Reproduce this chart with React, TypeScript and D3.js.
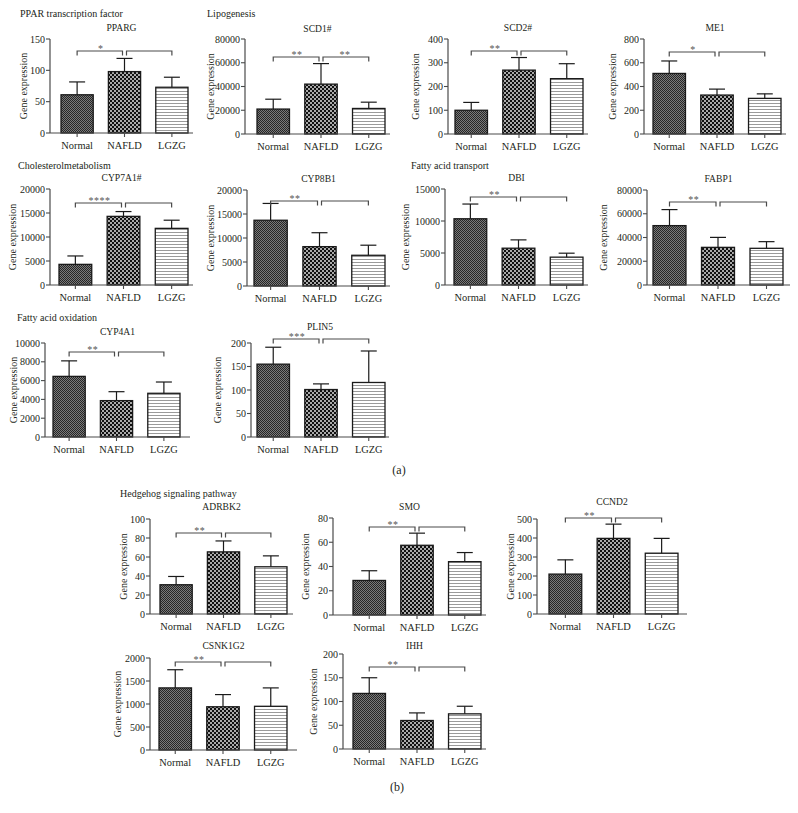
import React from "react";
import * as d3 from "d3";

const groups = ["Normal", "NAFLD", "LGZG"];
const genes = ["PPARG", "SCD1#", "SCD2#", "ME1", "CYP7A1#", "CYP8B1", "DBI", "FABP1", "CYP4A1", "PLIN5", "ADRBK2", "SMO", "CCND2", "CSNK1G2", "IHH"];
const normalMean = [61, 21000, 100, 510, 4300, 13700, 10350, 50000, 6450, 155, 30.8, 28.5, 210, 1350, 117];
const nafldMean = [98, 42000, 269, 328, 14300, 8200, 5750, 31700, 3870, 101, 65.4, 57.5, 398, 940, 60];
const lgzgMean = [73, 21500, 233, 300, 11800, 6400, 4350, 30900, 4650, 116, 49.7, 44, 320, 950, 74];
const normalSD = [20.5, 8300, 33, 105, 1750, 3500, 2300, 13500, 1650, 36, 8.7, 8, 75, 395, 33];
const nafldSD = [21, 17300, 53, 50, 1000, 2900, 1300, 8400, 950, 12, 11.5, 10, 75, 265, 16];
const lgzgSD = [16, 5300, 63, 38, 1700, 2100, 620, 5600, 1200, 67, 11.5, 7.5, 78, 400, 16];
const yMax = [150, 80000, 400, 800, 20000, 20000, 15000, 80000, 10000, 200, 100, 80, 500, 2000, 200];
const yStep = [50, 20000, 100, 200, 5000, 5000, 5000, 20000, 2000, 50, 20, 20, 100, 500, 50];
const sigLeft = ["*", "**", "**", "*", "****", "**", "**", "**", "**", "***", "**", "**", "**", "**", "**"];
const sigRight = ["", "**", "", "", "", "", "", "", "", "", "", "", "", "", ""];
const sections = ["PPAR transcription factor", "Lipogenesis", "Cholesterolmetabolism", "Fatty acid transport", "Fatty acid oxidation", "Hedgehog signaling pathway"];
const figureLabels = ["(a)", "(b)"];
const yLabel = "Gene expression";

// layout (pixel positions)
const boxes = [
  { ax: 50, b0: 61, b1: 188, ae: 193, top: 39, zero: 133, tY: 28, bY: 51, ylX: 23 },
  { ax: 245, b0: 257, b1: 385, ae: 390, top: 39, zero: 134, tY: 29, bY: 57, ylX: 210 },
  { ax: 448, b0: 455, b1: 583, ae: 588, top: 39, zero: 134, tY: 28, bY: 51, ylX: 415 },
  { ax: 644, b0: 653, b1: 781, ae: 786, top: 39, zero: 134, tY: 28, bY: 52, ylX: 612 },
  { ax: 50, b0: 59, b1: 188, ae: 193, top: 189, zero: 285, tY: 178, bY: 203, ylX: 12 },
  { ax: 247, b0: 254, b1: 385, ae: 390, top: 190, zero: 286, tY: 179, bY: 201, ylX: 210 },
  { ax: 445, b0: 454, b1: 583, ae: 588, top: 189, zero: 285, tY: 178, bY: 197, ylX: 405 },
  { ax: 647, b0: 653, b1: 783, ae: 790, top: 190, zero: 285, tY: 179, bY: 202, ylX: 603 },
  { ax: 45, b0: 53, b1: 180, ae: 190, top: 343, zero: 437, tY: 332, bY: 352, ylX: 13 },
  { ax: 251, b0: 257, b1: 385, ae: 389, top: 343, zero: 437, tY: 327, bY: 339, ylX: 217 },
  { ax: 150, b0: 160, b1: 287, ae: 293, top: 519, zero: 614, tY: 507, bY: 533, ylX: 123 },
  { ax: 333, b0: 353, b1: 481, ae: 486, top: 518, zero: 615, tY: 507, bY: 527, ylX: 305 },
  { ax: 537, b0: 549, b1: 678, ae: 687, top: 519, zero: 614, tY: 502, bY: 518, ylX: 510 },
  { ax: 150, b0: 159, b1: 287, ae: 297, top: 658, zero: 750, tY: 646, bY: 662, ylX: 117 },
  { ax: 343, b0: 353, b1: 481, ae: 486, top: 654, zero: 749, tY: 646, bY: 667, ylX: 313 },
];
const sectionPos = [
  { x: 20, y: 13 }, { x: 207, y: 13 }, { x: 18, y: 165 }, { x: 411, y: 165 }, { x: 17, y: 317 }, { x: 120, y: 493 },
];
const figLabelPos = [{ x: 399, y: 470 }, { x: 397, y: 787 }];

const FONT = "'Liberation Serif', 'DejaVu Serif', serif";
const TXT = "#231f20";
const AX = "#4a4a4a";
const fills = ["url(#pNormal)", "url(#pNafld)", "url(#pLgzg)"];

function Panel({ i }: { i: number }) {
  const b = boxes[i];
  const means = [normalMean[i], nafldMean[i], lgzgMean[i]];
  const sds = [normalSD[i], nafldSD[i], lgzgSD[i]];
  const y = d3.scaleLinear().domain([0, yMax[i]]).range([b.zero, b.top]);
  const x = d3.scaleBand<string>().domain(groups).range([b.b0, b.b1]).paddingInner(0.32).paddingOuter(0);
  const ticks = d3.range(0, yMax[i] + yStep[i] / 2, yStep[i]);
  const cx = (g: string) => (x(g) as number) + x.bandwidth() / 2;
  const c0 = cx(groups[0]), c1 = cx(groups[1]), c2 = cx(groups[2]);
  const mid = (b.top + b.zero) / 2;
  return (
    <g>
      {groups.map((g, k) => (
        <rect key={g} x={x(g)} y={y(means[k])} width={x.bandwidth()} height={b.zero - y(means[k])}
          fill={fills[k]} stroke="#1a1a1a" strokeWidth={1.3} />
      ))}
      {groups.map((g, k) => {
        const c = cx(g);
        return (
          <g key={"e" + g} stroke="#1a1a1a" strokeWidth={1.2}>
            <line x1={c} x2={c} y1={y(means[k])} y2={y(means[k] + sds[k])} />
            <line x1={c - 8} x2={c + 8} y1={y(means[k] + sds[k])} y2={y(means[k] + sds[k])} />
          </g>
        );
      })}
      <line x1={b.ax} x2={b.ax} y1={b.zero} y2={b.top} stroke={AX} strokeWidth={1.2} />
      <line x1={b.ax} x2={b.ae} y1={b.zero} y2={b.zero} stroke={AX} strokeWidth={1.2} />
      {ticks.map((t) => (
        <g key={t}>
          <line x1={b.ax - 4} x2={b.ax} y1={y(t)} y2={y(t)} stroke={AX} strokeWidth={1.1} />
          <text x={b.ax - 5} y={y(t) + 3.5} textAnchor="end" fontSize={10} fill={TXT}>{d3.format("d")(t)}</text>
        </g>
      ))}
      {groups.map((g) => (
        <g key={"x" + g}>
          <line x1={cx(g)} x2={cx(g)} y1={b.zero} y2={b.zero + 4} stroke={AX} strokeWidth={1.1} />
          <text x={cx(g)} y={b.zero + 15.5} textAnchor="middle" fontSize={10.4} fill={TXT}>{g}</text>
        </g>
      ))}
      <path d={`M${c0},${b.bY + 4.5}V${b.bY}H${c1 - 2}V${b.bY + 4.5}`} fill="none" stroke={AX} strokeWidth={1.2} />
      <path d={`M${c1 + 2},${b.bY + 4.5}V${b.bY}H${c2}V${b.bY + 4.5}`} fill="none" stroke={AX} strokeWidth={1.2} />
      <text x={(c0 + c1) / 2} y={b.bY + 1} textAnchor="middle" fontSize={10} fill="#555" letterSpacing={0.5}>{sigLeft[i]}</text>
      {sigRight[i] && (
        <text x={(c1 + c2) / 2} y={b.bY + 1} textAnchor="middle" fontSize={10} fill="#555" letterSpacing={0.5}>{sigRight[i]}</text>
      )}
      <text x={(b.ax + b.ae) / 2} y={b.tY + 3.3} textAnchor="middle" fontSize={9.6} fill={TXT}>{genes[i]}</text>
      <text transform={`translate(${b.ylX + 3.5},${mid}) rotate(-90)`} textAnchor="middle" fontSize={10} fill={TXT}>{yLabel}</text>
    </g>
  );
}

export default function App() {
  return (
    <svg width={798} height={813} style={{ position: "absolute", left: 0, top: 0, background: "#fff" }}
      fontFamily={FONT}>
      <defs>
        <pattern id="pNormal" width={2} height={2} patternUnits="userSpaceOnUse">
          <rect width={2} height={2} fill="#7a7a7a" />
          <rect width={1} height={1} fill="#262626" />
          <rect x={1} y={1} width={1} height={1} fill="#262626" />
        </pattern>
        <pattern id="pNafld" width={4} height={4} patternUnits="userSpaceOnUse">
          <rect width={4} height={4} fill="#111" />
          <rect x={0.2} y={0.2} width={1.6} height={1.6} fill="#fff" />
          <rect x={2.2} y={2.2} width={1.6} height={1.6} fill="#fff" />
        </pattern>
        <pattern id="pLgzg" width={4} height={3} patternUnits="userSpaceOnUse">
          <rect width={4} height={3} fill="#fff" />
          <rect y={1} width={4} height={1} fill="#9a9a9a" />
        </pattern>
      </defs>
      <rect width={798} height={813} fill="#fff" />
      {sections.map((s, k) => (
        <text key={s} x={sectionPos[k].x} y={sectionPos[k].y + 3.5} fontSize={10} fill={TXT}>{s}</text>
      ))}
      {figureLabels.map((s, k) => (
        <text key={s} x={figLabelPos[k].x} y={figLabelPos[k].y + 4} textAnchor="middle" fontSize={12} fill={TXT}>{s}</text>
      ))}
      {genes.map((g, i) => (
        <Panel key={g} i={i} />
      ))}
    </svg>
  );
}
